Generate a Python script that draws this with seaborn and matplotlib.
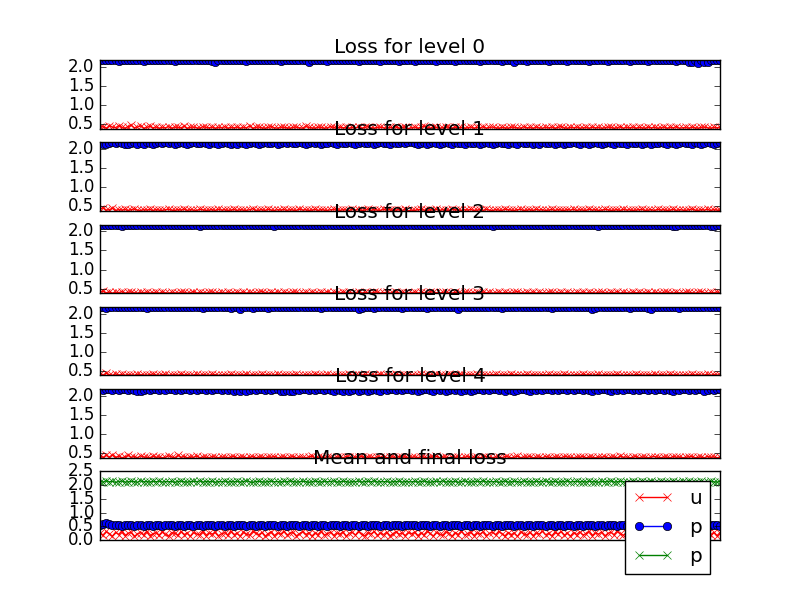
import numpy as np
import matplotlib
matplotlib.use("Agg")
import matplotlib.pyplot as plt
import seaborn as sns

plt.style.use("classic")
plt.rcParams["font.family"] = ["DejaVu Sans"]

# loss per level: u (red) and p (blue)
level0_u = [0.40, 0.42, 0.38, 0.44, 0.41, 0.39, 0.45, 0.40, 0.38, 0.42, 0.46, 0.39, 0.41, 0.44, 0.38, 0.40, 0.43, 0.39, 0.41, 0.38,
            0.40, 0.39, 0.42, 0.38, 0.41, 0.40, 0.39, 0.43, 0.38, 0.40, 0.41, 0.39, 0.38, 0.42, 0.40, 0.39, 0.41, 0.38, 0.40, 0.39,
            0.42, 0.38, 0.40, 0.39, 0.41, 0.38, 0.40, 0.39, 0.44, 0.38, 0.40, 0.41, 0.39, 0.38, 0.40, 0.42, 0.39, 0.38, 0.41, 0.40,
            0.39, 0.38, 0.40, 0.41, 0.39, 0.38, 0.43, 0.40, 0.39, 0.38, 0.41, 0.40, 0.38, 0.39, 0.42, 0.40, 0.38, 0.41, 0.39, 0.40,
            0.38, 0.40, 0.39, 0.41, 0.38, 0.40, 0.42, 0.39, 0.38, 0.40, 0.41, 0.39, 0.38, 0.40, 0.39, 0.42, 0.38, 0.40, 0.41, 0.37,
            0.39, 0.41, 0.38, 0.40, 0.43, 0.39, 0.38, 0.41, 0.40, 0.38, 0.39, 0.42, 0.40, 0.38, 0.41, 0.39, 0.40, 0.38, 0.39, 0.41,
            0.38, 0.40, 0.39, 0.42, 0.38, 0.40, 0.41, 0.39, 0.38, 0.40, 0.39, 0.38, 0.41, 0.40, 0.39, 0.38, 0.42, 0.39, 0.40, 0.38,
            0.41, 0.39, 0.38, 0.40, 0.39, 0.41, 0.38, 0.40, 0.42, 0.39, 0.38, 0.40, 0.39, 0.41, 0.38, 0.39, 0.40, 0.38, 0.41, 0.39,
            0.40, 0.38, 0.39, 0.41, 0.40, 0.38, 0.39, 0.42, 0.38, 0.40, 0.39, 0.41, 0.38, 0.40, 0.39, 0.38, 0.41, 0.39, 0.40, 0.38,
            0.39, 0.41, 0.38, 0.40, 0.39, 0.42, 0.38, 0.39, 0.40, 0.38, 0.41, 0.39, 0.38, 0.40, 0.41, 0.39, 0.38, 0.40, 0.39, 0.41]
level0_p = [2.18, 2.19, 2.18, 2.18, 2.19, 2.18, 2.17, 2.18, 2.19, 2.18, 2.18, 2.19, 2.18, 2.18, 2.17, 2.18, 2.19, 2.18, 2.18, 2.19,
            2.18, 2.18, 2.19, 2.18, 2.17, 2.18, 2.18, 2.19, 2.18, 2.18, 2.19, 2.18, 2.18, 2.18, 2.19, 2.18, 2.17, 2.13, 2.18, 2.18,
            2.19, 2.18, 2.18, 2.18, 2.19, 2.18, 2.18, 2.17, 2.18, 2.19, 2.18, 2.18, 2.18, 2.19, 2.18, 2.18, 2.19, 2.18, 2.17, 2.18,
            2.18, 2.19, 2.18, 2.18, 2.18, 2.19, 2.18, 2.14, 2.18, 2.18, 2.19, 2.18, 2.18, 2.17, 2.18, 2.19, 2.18, 2.18, 2.18, 2.19,
            2.18, 2.19, 2.18, 2.17, 2.18, 2.19, 2.18, 2.18, 2.19, 2.18, 2.17, 2.18, 2.18, 2.19, 2.18, 2.18, 2.17, 2.18, 2.19, 2.18,
            2.18, 2.17, 2.18, 2.19, 2.18, 2.18, 2.18, 2.19, 2.17, 2.18, 2.18, 2.19, 2.18, 2.18, 2.17, 2.18, 2.19, 2.18, 2.18, 2.18,
            2.19, 2.18, 2.17, 2.18, 2.18, 2.19, 2.18, 2.18, 2.18, 2.17, 2.19, 2.18, 2.18, 2.14, 2.18, 2.19, 2.18, 2.17, 2.18, 2.18,
            2.18, 2.19, 2.18, 2.18, 2.17, 2.18, 2.19, 2.18, 2.18, 2.18, 2.17, 2.19, 2.18, 2.18, 2.18, 2.19, 2.18, 2.17, 2.18, 2.18,
            2.19, 2.18, 2.18, 2.17, 2.18, 2.19, 2.18, 2.18, 2.18, 2.19, 2.17, 2.18, 2.18, 2.19, 2.18, 2.18, 2.17, 2.18, 2.19, 2.18,
            2.18, 2.18, 2.19, 2.18, 2.18, 2.17, 2.18, 2.18, 2.19, 2.13, 2.14, 2.18, 2.12, 2.18, 2.13, 2.14, 2.18, 2.18, 2.19, 2.18]

level1_u = [0.41, 0.45, 0.39, 0.40, 0.44, 0.38, 0.40, 0.39, 0.41, 0.38, 0.40, 0.42, 0.39, 0.38, 0.40, 0.39, 0.41, 0.38, 0.40, 0.39,
            0.38, 0.40, 0.41, 0.39, 0.38, 0.40, 0.39, 0.42, 0.38, 0.40, 0.39, 0.38, 0.41, 0.40, 0.38, 0.39, 0.40, 0.38, 0.41, 0.39,
            0.40, 0.38, 0.39, 0.41, 0.38, 0.40, 0.39, 0.38, 0.40, 0.43, 0.38, 0.39, 0.40, 0.38, 0.41, 0.39, 0.38, 0.40, 0.39, 0.41,
            0.38, 0.40, 0.39, 0.38, 0.42, 0.39, 0.40, 0.38, 0.39, 0.41, 0.38, 0.40, 0.39, 0.38, 0.40, 0.41, 0.39, 0.38, 0.40, 0.39,
            0.38, 0.41, 0.39, 0.40, 0.38, 0.39, 0.42, 0.38, 0.40, 0.39, 0.38, 0.41, 0.39, 0.40, 0.38, 0.39, 0.40, 0.38, 0.41, 0.37,
            0.39, 0.38, 0.40, 0.41, 0.39, 0.38, 0.40, 0.39, 0.42, 0.38, 0.40, 0.39, 0.38, 0.41, 0.40, 0.39, 0.38, 0.40, 0.39, 0.41,
            0.38, 0.39, 0.40, 0.38, 0.41, 0.39, 0.38, 0.40, 0.39, 0.38, 0.42, 0.40, 0.39, 0.38, 0.40, 0.41, 0.38, 0.39, 0.40, 0.38,
            0.41, 0.39, 0.40, 0.38, 0.39, 0.41, 0.38, 0.40, 0.39, 0.38, 0.40, 0.39, 0.41, 0.38, 0.40, 0.39, 0.38, 0.42, 0.39, 0.40,
            0.38, 0.39, 0.41, 0.40, 0.38, 0.39, 0.40, 0.38, 0.41, 0.39, 0.40, 0.38, 0.39, 0.40, 0.41, 0.38, 0.39, 0.40, 0.38, 0.41,
            0.39, 0.40, 0.38, 0.39, 0.41, 0.38, 0.40, 0.39, 0.38, 0.40, 0.42, 0.39, 0.38, 0.40, 0.39, 0.41, 0.38, 0.40, 0.39, 0.38]
level1_p = [2.17, 2.14, 2.13, 2.17, 2.18, 2.17, 2.18, 2.17, 2.13, 2.14, 2.17, 2.18, 2.13, 2.17, 2.14, 2.18, 2.17, 2.13, 2.17, 2.18,
            2.17, 2.18, 2.17, 2.18, 2.14, 2.17, 2.18, 2.17, 2.13, 2.17, 2.18, 2.17, 2.17, 2.18, 2.17, 2.14, 2.18, 2.17, 2.13, 2.17,
            2.18, 2.17, 2.14, 2.17, 2.13, 2.18, 2.17, 2.14, 2.17, 2.18, 2.17, 2.13, 2.17, 2.18, 2.17, 2.17, 2.18, 2.14, 2.17, 2.18,
            2.17, 2.18, 2.17, 2.17, 2.18, 2.17, 2.13, 2.17, 2.18, 2.17, 2.18, 2.14, 2.17, 2.17, 2.18, 2.17, 2.13, 2.18, 2.17, 2.17,
            2.18, 2.17, 2.14, 2.17, 2.18, 2.17, 2.17, 2.18, 2.13, 2.17, 2.18, 2.17, 2.17, 2.14, 2.18, 2.17, 2.17, 2.18, 2.17, 2.18,
            2.18, 2.17, 2.13, 2.17, 2.18, 2.14, 2.17, 2.18, 2.17, 2.13, 2.17, 2.18, 2.17, 2.14, 2.18, 2.17, 2.17, 2.13, 2.18, 2.17,
            2.17, 2.18, 2.14, 2.17, 2.18, 2.17, 2.13, 2.17, 2.18, 2.17, 2.17, 2.14, 2.18, 2.17, 2.13, 2.18, 2.17, 2.17, 2.18, 2.14,
            2.17, 2.13, 2.18, 2.17, 2.17, 2.18, 2.14, 2.17, 2.18, 2.13, 2.17, 2.17, 2.18, 2.17, 2.14, 2.18, 2.17, 2.13, 2.17, 2.18,
            2.17, 2.14, 2.17, 2.18, 2.17, 2.13, 2.18, 2.17, 2.17, 2.14, 2.18, 2.17, 2.17, 2.18, 2.13, 2.17, 2.18, 2.14, 2.17, 2.17,
            2.18, 2.17, 2.13, 2.18, 2.17, 2.14, 2.17, 2.18, 2.17, 2.17, 2.13, 2.18, 2.17, 2.14, 2.17, 2.18, 2.17, 2.13, 2.17, 2.18]

level2_u = [0.40, 0.43, 0.39, 0.41, 0.38, 0.40, 0.39, 0.42, 0.38, 0.40, 0.41, 0.39, 0.38, 0.40, 0.39, 0.41, 0.38, 0.39, 0.40, 0.38,
            0.41, 0.39, 0.38, 0.40, 0.39, 0.38, 0.41, 0.40, 0.38, 0.39, 0.42, 0.38, 0.40, 0.39, 0.38, 0.40, 0.41, 0.38, 0.39, 0.40,
            0.38, 0.41, 0.39, 0.38, 0.40, 0.39, 0.41, 0.38, 0.40, 0.39, 0.38, 0.40, 0.42, 0.39, 0.38, 0.40, 0.39, 0.41, 0.38, 0.40,
            0.39, 0.38, 0.41, 0.40, 0.38, 0.39, 0.40, 0.38, 0.41, 0.39, 0.38, 0.40, 0.39, 0.42, 0.38, 0.40, 0.39, 0.38, 0.41, 0.39,
            0.40, 0.38, 0.39, 0.41, 0.38, 0.40, 0.39, 0.38, 0.40, 0.41, 0.38, 0.39, 0.40, 0.38, 0.39, 0.41, 0.38, 0.40, 0.39, 0.38,
            0.39, 0.41, 0.38, 0.40, 0.39, 0.38, 0.42, 0.40, 0.39, 0.38, 0.40, 0.41, 0.39, 0.38, 0.40, 0.39, 0.38, 0.41, 0.40, 0.38,
            0.39, 0.40, 0.38, 0.41, 0.39, 0.40, 0.38, 0.39, 0.41, 0.38, 0.40, 0.39, 0.38, 0.40, 0.42, 0.39, 0.38, 0.40, 0.39, 0.41,
            0.38, 0.40, 0.39, 0.38, 0.41, 0.40, 0.38, 0.39, 0.40, 0.38, 0.41, 0.39, 0.38, 0.40, 0.39, 0.41, 0.38, 0.40, 0.39, 0.38,
            0.40, 0.41, 0.39, 0.38, 0.40, 0.39, 0.42, 0.38, 0.40, 0.39, 0.38, 0.41, 0.39, 0.40, 0.38, 0.39, 0.41, 0.38, 0.40, 0.39,
            0.38, 0.40, 0.41, 0.39, 0.38, 0.40, 0.39, 0.38, 0.41, 0.40, 0.39, 0.38, 0.40, 0.42, 0.39, 0.38, 0.40, 0.39, 0.41, 0.38]
level2_p = [2.17, 2.18, 2.17, 2.18, 2.18, 2.17, 2.18, 2.14, 2.18, 2.17, 2.18, 2.18, 2.17, 2.18, 2.17, 2.18, 2.18, 2.17, 2.18, 2.17,
            2.18, 2.17, 2.18, 2.18, 2.17, 2.18, 2.17, 2.18, 2.18, 2.17, 2.18, 2.17, 2.14, 2.18, 2.17, 2.18, 2.18, 2.17, 2.18, 2.17,
            2.18, 2.18, 2.17, 2.18, 2.17, 2.18, 2.18, 2.17, 2.18, 2.17, 2.18, 2.17, 2.18, 2.18, 2.17, 2.18, 2.14, 2.18, 2.17, 2.18,
            2.17, 2.18, 2.18, 2.17, 2.18, 2.17, 2.18, 2.18, 2.17, 2.18, 2.17, 2.18, 2.18, 2.17, 2.18, 2.17, 2.18, 2.18, 2.17, 2.18,
            2.17, 2.18, 2.17, 2.18, 2.18, 2.17, 2.18, 2.17, 2.18, 2.18, 2.17, 2.18, 2.17, 2.18, 2.18, 2.18, 2.17, 2.18, 2.18, 2.17,
            2.18, 2.17, 2.18, 2.18, 2.17, 2.18, 2.17, 2.18, 2.18, 2.17, 2.18, 2.17, 2.18, 2.18, 2.17, 2.18, 2.18, 2.17, 2.18, 2.17,
            2.18, 2.18, 2.17, 2.18, 2.17, 2.18, 2.14, 2.18, 2.17, 2.18, 2.18, 2.17, 2.18, 2.17, 2.18, 2.17, 2.18, 2.18, 2.17, 2.18,
            2.17, 2.18, 2.18, 2.17, 2.18, 2.17, 2.18, 2.18, 2.17, 2.18, 2.18, 2.17, 2.18, 2.17, 2.18, 2.18, 2.17, 2.18, 2.17, 2.18,
            2.14, 2.18, 2.17, 2.18, 2.18, 2.17, 2.18, 2.17, 2.18, 2.18, 2.17, 2.18, 2.17, 2.18, 2.18, 2.17, 2.18, 2.17, 2.18, 2.18,
            2.17, 2.18, 2.17, 2.18, 2.13, 2.14, 2.17, 2.18, 2.18, 2.17, 2.18, 2.18, 2.17, 2.18, 2.17, 2.17, 2.14, 2.13, 2.17, 2.18]

level3_u = [0.41, 0.39, 0.44, 0.40, 0.38, 0.42, 0.39, 0.41, 0.38, 0.40, 0.39, 0.38, 0.41, 0.40, 0.39, 0.38, 0.40, 0.42, 0.39, 0.38,
            0.40, 0.41, 0.38, 0.39, 0.40, 0.38, 0.42, 0.39, 0.40, 0.38, 0.39, 0.41, 0.38, 0.40, 0.39, 0.38, 0.41, 0.40, 0.38, 0.39,
            0.40, 0.38, 0.41, 0.39, 0.38, 0.40, 0.39, 0.42, 0.38, 0.40, 0.39, 0.38, 0.41, 0.39, 0.40, 0.38, 0.39, 0.41, 0.38, 0.40,
            0.39, 0.38, 0.40, 0.41, 0.39, 0.38, 0.40, 0.39, 0.38, 0.42, 0.40, 0.38, 0.39, 0.41, 0.38, 0.40, 0.39, 0.38, 0.40, 0.39,
            0.41, 0.38, 0.40, 0.39, 0.38, 0.41, 0.39, 0.40, 0.38, 0.39, 0.42, 0.38, 0.40, 0.39, 0.38, 0.41, 0.39, 0.40, 0.38, 0.39,
            0.40, 0.38, 0.39, 0.41, 0.38, 0.40, 0.39, 0.38, 0.41, 0.40, 0.38, 0.39, 0.42, 0.38, 0.40, 0.39, 0.41, 0.38, 0.39, 0.40,
            0.38, 0.41, 0.39, 0.40, 0.38, 0.39, 0.40, 0.41, 0.38, 0.39, 0.40, 0.38, 0.42, 0.39, 0.40, 0.38, 0.39, 0.41, 0.38, 0.40,
            0.39, 0.38, 0.40, 0.39, 0.41, 0.38, 0.40, 0.39, 0.38, 0.41, 0.40, 0.38, 0.39, 0.40, 0.38, 0.42, 0.39, 0.40, 0.38, 0.39,
            0.41, 0.38, 0.40, 0.39, 0.38, 0.40, 0.41, 0.39, 0.38, 0.40, 0.39, 0.38, 0.41, 0.40, 0.39, 0.38, 0.40, 0.39, 0.42, 0.38,
            0.40, 0.39, 0.38, 0.41, 0.39, 0.40, 0.38, 0.39, 0.40, 0.38, 0.41, 0.39, 0.40, 0.38, 0.39, 0.41, 0.38, 0.40, 0.39, 0.38]
level3_p = [2.18, 2.17, 2.14, 2.18, 2.17, 2.18, 2.18, 2.17, 2.18, 2.17, 2.18, 2.17, 2.18, 2.18, 2.17, 2.14, 2.18, 2.17, 2.18, 2.17,
            2.18, 2.18, 2.17, 2.18, 2.17, 2.18, 2.17, 2.18, 2.18, 2.17, 2.18, 2.17, 2.18, 2.14, 2.17, 2.18, 2.17, 2.18, 2.18, 2.17,
            2.18, 2.17, 2.14, 2.18, 2.17, 2.13, 2.18, 2.17, 2.18, 2.14, 2.17, 2.18, 2.17, 2.18, 2.14, 2.17, 2.18, 2.17, 2.18, 2.17,
            2.18, 2.18, 2.17, 2.18, 2.17, 2.18, 2.17, 2.18, 2.18, 2.17, 2.18, 2.14, 2.17, 2.18, 2.17, 2.18, 2.18, 2.17, 2.18, 2.17,
            2.18, 2.17, 2.18, 2.13, 2.14, 2.18, 2.17, 2.18, 2.14, 2.17, 2.18, 2.17, 2.18, 2.18, 2.17, 2.18, 2.17, 2.14, 2.18, 2.17,
            2.18, 2.17, 2.18, 2.18, 2.17, 2.14, 2.18, 2.17, 2.18, 2.17, 2.18, 2.18, 2.17, 2.18, 2.17, 2.13, 2.18, 2.17, 2.18, 2.18,
            2.17, 2.18, 2.17, 2.18, 2.18, 2.17, 2.18, 2.17, 2.18, 2.14, 2.17, 2.18, 2.18, 2.17, 2.18, 2.17, 2.18, 2.18, 2.17, 2.18,
            2.17, 2.18, 2.18, 2.17, 2.18, 2.14, 2.17, 2.18, 2.17, 2.18, 2.18, 2.17, 2.18, 2.17, 2.18, 2.18, 2.17, 2.18, 2.13, 2.14,
            2.17, 2.18, 2.18, 2.17, 2.18, 2.17, 2.18, 2.18, 2.17, 2.18, 2.14, 2.17, 2.18, 2.17, 2.18, 2.18, 2.14, 2.13, 2.17, 2.18,
            2.17, 2.18, 2.18, 2.17, 2.18, 2.17, 2.14, 2.18, 2.17, 2.18, 2.18, 2.17, 2.18, 2.17, 2.18, 2.18, 2.17, 2.18, 2.17, 2.18]

level4_u = [0.43, 0.39, 0.44, 0.40, 0.45, 0.39, 0.42, 0.38, 0.40, 0.44, 0.39, 0.41, 0.38, 0.43, 0.40, 0.39, 0.38, 0.42, 0.39, 0.40,
            0.38, 0.39, 0.43, 0.40, 0.38, 0.44, 0.39, 0.41, 0.38, 0.40, 0.39, 0.42, 0.38, 0.40, 0.39, 0.38, 0.41, 0.39, 0.38, 0.40,
            0.39, 0.38, 0.40, 0.41, 0.38, 0.39, 0.40, 0.38, 0.39, 0.41, 0.38, 0.40, 0.39, 0.38, 0.40, 0.39, 0.41, 0.38, 0.39, 0.40,
            0.38, 0.39, 0.41, 0.38, 0.40, 0.39, 0.38, 0.40, 0.42, 0.38, 0.39, 0.40, 0.38, 0.41, 0.39, 0.38, 0.40, 0.39, 0.38, 0.41,
            0.39, 0.38, 0.40, 0.39, 0.41, 0.38, 0.40, 0.39, 0.38, 0.40, 0.39, 0.41, 0.38, 0.39, 0.40, 0.38, 0.41, 0.39, 0.40, 0.38,
            0.39, 0.40, 0.38, 0.41, 0.39, 0.38, 0.40, 0.39, 0.42, 0.38, 0.40, 0.39, 0.38, 0.41, 0.39, 0.40, 0.38, 0.39, 0.41, 0.38,
            0.40, 0.39, 0.38, 0.40, 0.41, 0.39, 0.38, 0.40, 0.39, 0.38, 0.41, 0.40, 0.38, 0.39, 0.42, 0.38, 0.40, 0.39, 0.41, 0.38,
            0.39, 0.40, 0.38, 0.41, 0.39, 0.38, 0.40, 0.39, 0.38, 0.41, 0.40, 0.39, 0.38, 0.40, 0.39, 0.41, 0.38, 0.40, 0.39, 0.38,
            0.40, 0.39, 0.41, 0.38, 0.39, 0.40, 0.38, 0.42, 0.39, 0.40, 0.38, 0.39, 0.41, 0.38, 0.40, 0.39, 0.38, 0.40, 0.41, 0.39,
            0.38, 0.40, 0.39, 0.38, 0.41, 0.39, 0.40, 0.38, 0.39, 0.40, 0.41, 0.38, 0.39, 0.40, 0.38, 0.41, 0.39, 0.40, 0.38, 0.39]
level4_p = [2.18, 2.17, 2.18, 2.18, 2.17, 2.18, 2.17, 2.18, 2.18, 2.17, 2.18, 2.17, 2.14, 2.13, 2.17, 2.18, 2.17, 2.18, 2.18, 2.17,
            2.18, 2.17, 2.18, 2.18, 2.17, 2.18, 2.17, 2.18, 2.18, 2.17, 2.18, 2.17, 2.18, 2.18, 2.17, 2.18, 2.17, 2.18, 2.18, 2.17,
            2.18, 2.17, 2.18, 2.14, 2.17, 2.13, 2.18, 2.14, 2.17, 2.18, 2.17, 2.18, 2.18, 2.17, 2.18, 2.17, 2.18, 2.18, 2.13, 2.14,
            2.17, 2.13, 2.14, 2.18, 2.17, 2.18, 2.18, 2.17, 2.18, 2.17, 2.18, 2.18, 2.17, 2.18, 2.17, 2.14, 2.18, 2.17, 2.13, 2.18,
            2.14, 2.17, 2.18, 2.13, 2.17, 2.18, 2.14, 2.17, 2.18, 2.17, 2.13, 2.18, 2.17, 2.18, 2.18, 2.17, 2.18, 2.17, 2.18, 2.18,
            2.17, 2.18, 2.14, 2.17, 2.18, 2.18, 2.17, 2.13, 2.18, 2.17, 2.18, 2.14, 2.17, 2.18, 2.17, 2.18, 2.13, 2.17, 2.18, 2.14,
            2.17, 2.18, 2.18, 2.17, 2.18, 2.17, 2.18, 2.18, 2.17, 2.18, 2.14, 2.18, 2.17, 2.13, 2.17, 2.18, 2.18, 2.17, 2.14, 2.18,
            2.17, 2.18, 2.17, 2.18, 2.18, 2.17, 2.18, 2.17, 2.18, 2.18, 2.17, 2.18, 2.17, 2.18, 2.18, 2.17, 2.18, 2.17, 2.14, 2.18,
            2.17, 2.18, 2.18, 2.17, 2.13, 2.18, 2.17, 2.18, 2.17, 2.18, 2.18, 2.17, 2.18, 2.17, 2.18, 2.18, 2.17, 2.18, 2.17, 2.18,
            2.18, 2.17, 2.18, 2.17, 2.14, 2.18, 2.17, 2.18, 2.18, 2.17, 2.18, 2.17, 2.18, 2.18, 2.13, 2.17, 2.18, 2.17, 2.18, 2.18]

# mean and final loss
mean_u = [0.25, 0.18, 0.31, 0.22, 0.14, 0.28, 0.20, 0.33, 0.16, 0.24, 0.29, 0.13, 0.21, 0.27, 0.19, 0.32, 0.15, 0.23, 0.26, 0.18,
          0.30, 0.21, 0.14, 0.27, 0.24, 0.17, 0.31, 0.20, 0.25, 0.13, 0.28, 0.22, 0.19, 0.32, 0.16, 0.26, 0.21, 0.29, 0.15, 0.23,
          0.27, 0.18, 0.33, 0.20, 0.24, 0.14, 0.29, 0.22, 0.17, 0.31, 0.25, 0.19, 0.28, 0.13, 0.23, 0.30, 0.16, 0.26, 0.21, 0.32,
          0.18, 0.24, 0.28, 0.15, 0.22, 0.31, 0.19, 0.27, 0.14, 0.25, 0.20, 0.33, 0.17, 0.23, 0.29, 0.16, 0.26, 0.21, 0.30, 0.13,
          0.24, 0.28, 0.18, 0.32, 0.20, 0.15, 0.27, 0.22, 0.31, 0.17, 0.25, 0.19, 0.29, 0.14, 0.23, 0.30, 0.21, 0.26, 0.16, 0.28,
          0.22, 0.29, 0.15, 0.26, 0.19, 0.32, 0.24, 0.14, 0.28, 0.21, 0.17, 0.30, 0.25, 0.13, 0.27, 0.20, 0.33, 0.18, 0.23, 0.29,
          0.16, 0.26, 0.21, 0.31, 0.14, 0.24, 0.28, 0.19, 0.32, 0.22, 0.15, 0.27, 0.20, 0.25, 0.13, 0.30, 0.23, 0.18, 0.29, 0.16,
          0.26, 0.21, 0.33, 0.19, 0.24, 0.15, 0.28, 0.22, 0.31, 0.17, 0.25, 0.14, 0.27, 0.20, 0.30, 0.18, 0.23, 0.32, 0.16, 0.26,
          0.21, 0.29, 0.14, 0.24, 0.28, 0.19, 0.33, 0.22, 0.17, 0.27, 0.25, 0.13, 0.30, 0.20, 0.23, 0.31, 0.16, 0.26, 0.19, 0.28,
          0.15, 0.24, 0.32, 0.21, 0.27, 0.18, 0.29, 0.23, 0.14, 0.30, 0.20, 0.26, 0.17, 0.31, 0.22, 0.25, 0.19, 0.28, 0.15, 0.27]
mean_p = [0.56, 0.60, 0.62, 0.58, 0.55, 0.53, 0.55, 0.52, 0.54, 0.53, 0.55, 0.52, 0.53, 0.56, 0.52, 0.54, 0.53, 0.52, 0.55, 0.53,
          0.52, 0.54, 0.53, 0.56, 0.52, 0.53, 0.55, 0.52, 0.54, 0.53, 0.52, 0.55, 0.53, 0.52, 0.54, 0.53, 0.56, 0.52, 0.53, 0.55,
          0.52, 0.54, 0.53, 0.52, 0.55, 0.53, 0.56, 0.52, 0.54, 0.53, 0.52, 0.55, 0.53, 0.52, 0.54, 0.53, 0.55, 0.52, 0.53, 0.56,
          0.52, 0.54, 0.53, 0.55, 0.52, 0.53, 0.54, 0.52, 0.56, 0.53, 0.52, 0.55, 0.53, 0.52, 0.54, 0.53, 0.56, 0.52, 0.53, 0.55,
          0.52, 0.54, 0.53, 0.52, 0.55, 0.53, 0.52, 0.56, 0.54, 0.53, 0.52, 0.55, 0.53, 0.52, 0.54, 0.53, 0.55, 0.52, 0.53, 0.54,
          0.53, 0.55, 0.52, 0.54, 0.53, 0.56, 0.52, 0.53, 0.55, 0.52, 0.54, 0.53, 0.52, 0.55, 0.53, 0.56, 0.52, 0.54, 0.53, 0.52,
          0.55, 0.53, 0.52, 0.54, 0.56, 0.53, 0.52, 0.55, 0.53, 0.52, 0.54, 0.53, 0.55, 0.52, 0.53, 0.56, 0.52, 0.54, 0.53, 0.52,
          0.55, 0.53, 0.54, 0.52, 0.53, 0.56, 0.52, 0.53, 0.55, 0.52, 0.54, 0.53, 0.52, 0.55, 0.53, 0.52, 0.54, 0.56, 0.53, 0.52,
          0.55, 0.53, 0.52, 0.54, 0.53, 0.55, 0.52, 0.53, 0.56, 0.52, 0.54, 0.53, 0.52, 0.55, 0.53, 0.52, 0.54, 0.53, 0.56, 0.52,
          0.53, 0.55, 0.52, 0.54, 0.53, 0.52, 0.55, 0.53, 0.56, 0.52, 0.53, 0.54, 0.52, 0.55, 0.53, 0.52, 0.54, 0.53, 0.55, 0.52]
final_p = [2.13, 2.11, 2.16, 2.12, 2.14, 2.10, 2.13, 2.15, 2.11, 2.12, 2.14, 2.13, 2.10, 2.16, 2.12, 2.13, 2.11, 2.14, 2.12, 2.15,
           2.11, 2.13, 2.12, 2.14, 2.10, 2.13, 2.15, 2.12, 2.11, 2.13, 2.14, 2.12, 2.16, 2.11, 2.13, 2.12, 2.14, 2.10, 2.13, 2.12,
           2.15, 2.11, 2.13, 2.12, 2.14, 2.11, 2.13, 2.16, 2.12, 2.10, 2.13, 2.14, 2.12, 2.11, 2.13, 2.15, 2.12, 2.13, 2.11, 2.14,
           2.12, 2.16, 2.13, 2.11, 2.12, 2.14, 2.13, 2.10, 2.12, 2.15, 2.13, 2.11, 2.14, 2.12, 2.13, 2.16, 2.11, 2.12, 2.14, 2.13,
           2.10, 2.13, 2.12, 2.15, 2.11, 2.13, 2.14, 2.12, 2.16, 2.11, 2.13, 2.12, 2.14, 2.10, 2.13, 2.12, 2.15, 2.11, 2.13, 2.12,
           2.12, 2.14, 2.11, 2.13, 2.15, 2.12, 2.10, 2.13, 2.14, 2.12, 2.16, 2.11, 2.13, 2.12, 2.14, 2.10, 2.13, 2.15, 2.12, 2.11,
           2.13, 2.14, 2.12, 2.16, 2.11, 2.13, 2.12, 2.14, 2.10, 2.13, 2.15, 2.11, 2.12, 2.14, 2.13, 2.10, 2.16, 2.12, 2.13, 2.11,
           2.14, 2.12, 2.13, 2.15, 2.11, 2.12, 2.14, 2.10, 2.13, 2.12, 2.16, 2.11, 2.13, 2.14, 2.12, 2.13, 2.11, 2.15, 2.12, 2.13,
           2.10, 2.14, 2.12, 2.13, 2.16, 2.11, 2.12, 2.14, 2.13, 2.10, 2.12, 2.15, 2.13, 2.11, 2.14, 2.12, 2.13, 2.16, 2.11, 2.12,
           2.14, 2.13, 2.10, 2.12, 2.15, 2.11, 2.13, 2.14, 2.12, 2.16, 2.11, 2.13, 2.12, 2.14, 2.10, 2.13, 2.15, 2.12, 2.11, 2.13]

levels_u = [level0_u, level1_u, level2_u, level3_u, level4_u]
levels_p = [level0_p, level1_p, level2_p, level3_p, level4_p]

x_style = dict(marker="x", markeredgewidth=0.5, markersize=6)
o_style = dict(marker="o", markeredgecolor="k", markeredgewidth=0.5, markersize=6)

fig = plt.figure(figsize=(8, 6), facecolor="white")

for i in range(5):
    ax = fig.add_subplot(6, 1, i + 1)
    u = levels_u[i]
    p = levels_p[i]
    x = np.arange(len(u))
    sns.lineplot(x=x, y=u, ax=ax, color="r", markeredgecolor="r", **x_style)
    sns.lineplot(x=x, y=p, ax=ax, color="b", **o_style)
    ax.set_xlim(x[0], x[-1])
    ax.set_ylim(min(u), max(p))
    ax.set_xticks([])
    ax.set_yticks([0.5, 1.0, 1.5, 2.0])
    ax.set_title("Loss for level %d" % i)

ax = fig.add_subplot(6, 1, 6)
x = np.arange(len(mean_u))
sns.lineplot(x=x, y=mean_u, ax=ax, color="r", markeredgecolor="r", label="u", **x_style)
sns.lineplot(x=x, y=mean_p, ax=ax, color="b", label="p", **o_style)
sns.lineplot(x=x, y=final_p, ax=ax, color="g", markeredgecolor="g", label="p", **x_style)
ax.set_xlim(x[0], x[-1])
ax.set_ylim(0, 2.5)
ax.set_xticks([])
ax.set_yticks([0.0, 0.5, 1.0, 1.5, 2.0, 2.5])
ax.set_title("Mean and final loss")
ax.legend(loc="upper right")

fig.savefig("out.png", dpi=100, facecolor="white")
